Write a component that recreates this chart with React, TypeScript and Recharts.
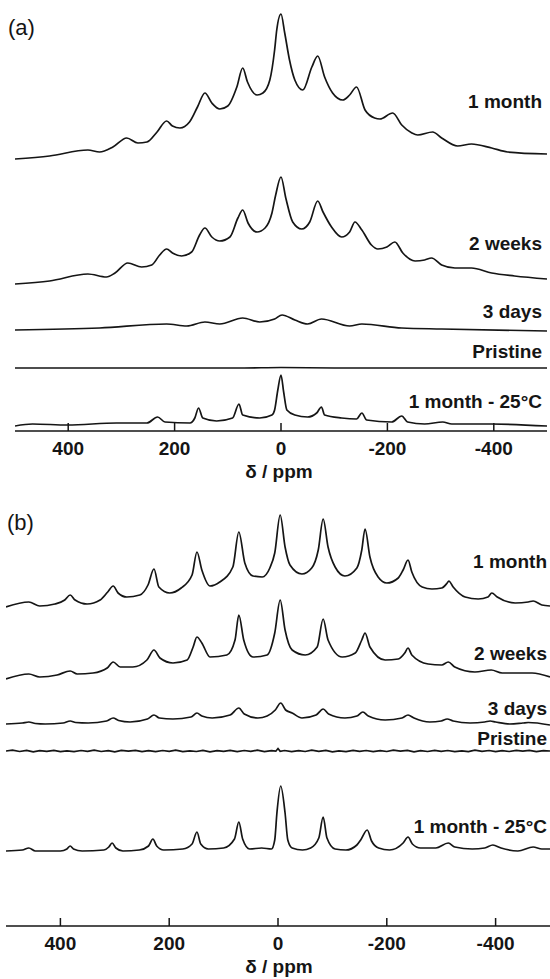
import { Line, LineChart, XAxis, YAxis } from 'recharts'

// [ppm, intensity] pairs (intensity in arbitrary units above each trace's baseline)
type Pt = [number, number]

const PPM_TICKS = [400, 200, 0, -200, -400]

// ---- panel (a) ----
const A_NAMES = ['1 month', '2 weeks', '3 days', 'Pristine', '1 month - 25°C']
const A_OFFSETS = [276, 150, 101, 63, 5]

const A_1MONTH: Pt[] = [
  [500, -4], [435, -1], [363, 5], [341, 3], [316, 8], [290, 17], [269, 12], [252, 13], [233, 23],
  [215, 34], [204, 29], [190, 27], [172, 33], [157, 48], [143, 62], [130, 52], [115, 46], [100, 49],
  [83, 68], [72, 87], [63, 73], [45, 60], [34, 62], [21, 75], [12, 105], [8, 125], [0, 141],
  [-7, 122], [-16, 95], [-26, 75], [-41, 65], [-58, 88], [-69, 99], [-82, 78], [-97, 62], [-116, 55],
  [-129, 60], [-142, 68], [-158, 45], [-176, 37], [-186, 36], [-210, 42], [-227, 30], [-246, 22],
  [-257, 20], [-285, 23], [-302, 17], [-332, 9], [-358, 11], [-396, 7], [-426, 3], [-500, 1]
]

const A_2WEEKS: Pt[] = [
  [500, -3], [435, 0], [363, 7], [328, 4], [312, 8], [288, 18], [262, 14], [243, 16], [228, 26],
  [215, 32], [204, 28], [187, 25], [168, 29], [153, 46], [143, 53], [130, 44], [115, 40], [96, 44],
  [81, 63], [72, 71], [62, 58], [45, 49], [30, 53], [17, 68], [10, 86], [0, 104], [-9, 83], [-22, 59],
  [-39, 52], [-54, 59], [-69, 80], [-79, 69], [-95, 54], [-114, 44], [-129, 49], [-139, 59], [-152, 51],
  [-170, 36], [-182, 32], [-199, 34], [-214, 39], [-229, 28], [-252, 20], [-270, 21], [-283, 23],
  [-302, 16], [-327, 13], [-358, 13], [-396, 8], [-439, 5], [-500, 2]
]

const A_3DAYS: Pt[] = [
  [500, 0], [341, 2], [215, 6], [177, 4], [143, 8], [115, 6], [72, 12], [40, 8], [12, 11], [-2, 15],
  [-26, 10], [-50, 6], [-76, 11], [-129, 4], [-152, 6], [-227, 2], [-302, 1], [-500, -1]
]

const A_PRISTINE: Pt[] = [[500, 0], [250, 0], [75, 0], [0, 0.5], [-100, 0], [-500, 0]]

const A_25C: Pt[] = [
  [500, 0], [467, 2], [401, 1], [309, 3], [252, 3], [232, 9], [218, 4], [171, 3], [162, 8], [155, 18],
  [147, 8], [121, 5], [91, 8], [79, 22], [72, 11], [40, 8], [17, 11], [12, 16], [6, 36], [0, 51],
  [-5, 34], [-11, 16], [-26, 11], [-50, 9], [-67, 13], [-76, 19], [-82, 11], [-114, 8], [-142, 7],
  [-152, 13], [-161, 6], [-208, 4], [-227, 10], [-238, 4], [-270, 2], [-304, 4], [-321, 2], [-396, 2],
  [-500, 0]
]

// ---- panel (b) ----
const B_NAMES = ['1 month', '2 weeks', '3 days', 'Pristine', '1 month - 25°C']
const B_OFFSETS = [320, 249, 202, 175, 75]

const B_1MONTH: Pt[] = [
  [500, -1], [458, 4], [438, 0], [410, 2], [392, 6], [382, 11], [373, 6], [351, 2], [327, 6], [313, 14],
  [303, 20], [294, 13], [278, 9], [254, 11], [239, 21], [228, 37], [219, 19], [199, 13], [178, 18],
  [158, 31], [149, 54], [140, 36], [125, 20], [107, 24], [83, 39], [72, 74], [61, 43], [46, 30],
  [29, 29], [15, 38], [6, 53], [-4, 91], [-13, 59], [-22, 41], [-44, 32], [-62, 38], [-74, 56],
  [-83, 87], [-92, 59], [-105, 39], [-123, 30], [-145, 38], [-154, 56], [-160, 77], [-169, 49],
  [-184, 29], [-200, 23], [-221, 28], [-230, 36], [-239, 46], [-246, 34], [-265, 19], [-283, 17],
  [-301, 18], [-311, 23], [-314, 25], [-322, 19], [-344, 9], [-368, 7], [-386, 9], [-393, 13],
  [-403, 9], [-436, 3], [-460, 4], [-469, 5], [-485, 1], [-500, 0]
]

const B_2WEEKS: Pt[] = [
  [500, -2], [458, 3], [438, 0], [406, 2], [382, 6], [369, 3], [340, 4], [314, 9], [303, 15], [290, 10],
  [267, 10], [241, 17], [228, 27], [217, 19], [193, 14], [167, 17], [156, 30], [149, 40], [140, 34],
  [125, 20], [94, 22], [79, 37], [72, 62], [63, 37], [46, 20], [20, 22], [6, 44], [-4, 77], [-13, 47],
  [-26, 27], [-50, 22], [-72, 30], [-83, 58], [-92, 37], [-118, 20], [-142, 24], [-154, 37], [-160, 44],
  [-169, 30], [-197, 17], [-221, 18], [-233, 24], [-239, 29], [-246, 22], [-276, 13], [-301, 12],
  [-313, 15], [-325, 10], [-362, 5], [-392, 7], [-412, 4], [-467, 4], [-500, 0]
]

const B_3DAYS: Pt[] = [
  [500, 0], [470, 1], [458, 2], [446, 0.5], [428, 0], [395, 1], [382, 3], [372, 1.5], [349, 1],
  [315, 3], [303, 6], [293, 3.5], [272, 2], [240, 5], [228, 9], [218, 6], [193, 5], [160, 7],
  [149, 11], [140, 8], [121, 6], [88, 9], [72, 16], [62, 10], [37, 6], [20, 8], [5, 14], [-5, 21],
  [-14, 14], [-26, 11], [-44, 6], [-70, 9], [-83, 15], [-93, 10], [-123, 6], [-145, 8], [-156, 12],
  [-166, 8], [-197, 4], [-228, 6], [-239, 9], [-250, 6], [-279, 2], [-300, 3], [-311, 5], [-322, 3],
  [-353, 1], [-380, 2], [-390, 3], [-400, 2], [-426, 0], [-450, 1], [-460, 1.5], [-500, -1]
]

const B_PRISTINE: Pt[] = [
  [500, 0], [488, 0.8], [475, -0.5], [462, 0.6], [450, -0.8], [438, 0.3], [425, -0.4], [412, 0.7],
  [400, -0.6], [388, 0.2], [375, -0.7], [362, 0.5], [350, -0.3], [338, 0.8], [325, -0.5], [312, 0.4],
  [300, -0.8], [288, 0.6], [275, -0.2], [262, 0.7], [250, -0.6], [238, 0.3], [225, -0.7], [212, 0.5],
  [200, -0.4], [188, 0.8], [175, -0.6], [162, 0.2], [150, -0.5], [138, 0.7], [125, -0.8], [112, 0.4],
  [100, -0.3], [88, 0.6], [75, -0.7], [62, 0.5], [50, -0.4], [38, 0.8], [25, -0.6], [12, 0.3],
  [4, -0.2], [0, 2.5], [-4, -0.3], [-12, 0.5], [-25, -0.7], [-38, 0.4], [-50, -0.5], [-62, 0.8],
  [-75, -0.3], [-88, 0.6], [-100, -0.8], [-112, 0.2], [-125, -0.6], [-138, 0.7], [-150, -0.4],
  [-162, 0.5], [-175, -0.7], [-188, 0.3], [-200, -0.5], [-212, 0.8], [-225, -0.2], [-238, 0.6],
  [-250, -0.8], [-262, 0.4], [-275, -0.5], [-288, 0.7], [-300, -0.3], [-312, 0.5], [-325, -0.7],
  [-338, 0.2], [-350, -0.6], [-362, 0.8], [-375, -0.4], [-388, 0.5], [-400, -0.7], [-412, 0.3],
  [-425, -0.5], [-438, 0.6], [-450, -0.2], [-462, 0.7], [-475, -0.6], [-488, 0.4], [-500, 0]
]

const B_25C: Pt[] = [
  [500, 0], [470, 1], [458, 3], [446, 0], [400, 0], [388, 2], [382, 5], [376, 2], [360, 0], [320, 1],
  [311, 4], [305, 8], [298, 3], [285, 0], [255, 1], [238, 5], [230, 12], [223, 5], [210, 1], [175, 2],
  [158, 7], [149, 19], [142, 7], [128, 2], [100, 3], [80, 12], [72, 29], [65, 12], [52, 2], [30, 3],
  [12, 2], [6, 11], [2, 38], [-5, 65], [-13, 38], [-18, 11], [-26, 3], [-45, 1], [-60, 3], [-75, 13],
  [-83, 34], [-90, 13], [-105, 2], [-125, 1], [-145, 6], [-152, 11], [-164, 21], [-172, 10], [-185, 3],
  [-205, 1], [-230, 8], [-239, 14], [-247, 7], [-262, 3], [-290, 3], [-313, 8], [-325, 4], [-357, 2],
  [-380, 3], [-395, 6], [-410, 3], [-441, 0], [-469, 4], [-485, 2], [-500, 2]
]

const A_TRACES = [A_1MONTH, A_2WEEKS, A_3DAYS, A_PRISTINE, A_25C]
const B_TRACES = [B_1MONTH, B_2WEEKS, B_3DAYS, B_PRISTINE, B_25C]

const FONT = '"Liberation Sans", Arial, Helvetica, sans-serif'
const INK = '#151515'

function toRows(points: Pt[], offset: number) {
  return points.map(([ppm, v]) => ({ ppm, y: offset + v }))
}

function PpmTick(props: any) {
  const { x, y, payload } = props
  return (
    <g>
      <line x1={x} x2={x} y1={y} y2={y - 8} stroke={INK} strokeWidth={1.5} />
      <text x={x} y={y + 24} textAnchor="middle" fontFamily={FONT} fontWeight="bold" fontSize={19} fill={INK}>
        {payload.value}
      </text>
    </g>
  )
}

interface PanelProps {
  letter: string
  traces: Pt[][]
  offsets: number[]
  names: string[]
  top: number
  height: number
  plotH: number
  left: number
  right: number
  nameRight: number
  nameY: number[]
  letterPos: [number, number]
}

function Panel(p: PanelProps) {
  return (
    <div style={{ position: 'absolute', left: 0, top: p.top }}>
      <LineChart width={550} height={p.height} margin={{ top: 0, right: p.right, left: p.left, bottom: 0 }}>
        <XAxis
          dataKey="ppm"
          type="number"
          domain={[-500, 500]}
          reversed
          allowDataOverflow
          ticks={PPM_TICKS}
          interval={0}
          tickSize={0}
          tickMargin={0}
          tick={<PpmTick />}
          axisLine={{ stroke: INK, strokeWidth: 1.6 }}
          height={p.height - p.plotH}
        />
        <YAxis type="number" domain={[0, p.plotH]} allowDataOverflow hide />
        {p.traces.map((t, i) => (
          <Line
            key={p.names[i]}
            data={toRows(t, p.offsets[i])}
            dataKey="y"
            type={t === B_PRISTINE ? 'linear' : 'monotone'}
            stroke={INK}
            strokeWidth={1.7}
            dot={false}
            activeDot={false}
            isAnimationActive={false}
          />
        ))}
        {p.names.map((n, i) => (
          <text key={n + i} x={p.nameRight} y={p.nameY[i]} textAnchor="end" fontFamily={FONT} fontWeight="bold" fontSize={19} fill={INK}>
            {n}
          </text>
        ))}
        <text x={p.letterPos[0]} y={p.letterPos[1]} fontFamily={FONT} fontSize={22} fill={INK}>
          {p.letter}
        </text>
        <text x={279} y={p.plotH + 47} textAnchor="middle" fontFamily={FONT} fontWeight="bold" fontSize={19} fill={INK}>
          δ / ppm
        </text>
      </LineChart>
    </div>
  )
}

export default function App() {
  return (
    <div style={{ position: 'absolute', left: 0, top: 0, width: 550, height: 979, background: '#fff', overflow: 'hidden' }}>
      <Panel
        letter="(a)"
        traces={A_TRACES}
        offsets={A_OFFSETS}
        names={A_NAMES}
        top={0}
        height={495}
        plotH={431}
        left={15}
        right={3}
        nameRight={542}
        nameY={[108, 250, 318, 358, 408]}
        letterPos={[8, 35]}
      />
      <Panel
        letter="(b)"
        traces={B_TRACES}
        offsets={B_OFFSETS}
        names={B_NAMES}
        top={500}
        height={479}
        plotH={426}
        left={6}
        right={0}
        nameRight={547}
        nameY={[68, 160, 215, 245, 333]}
        letterPos={[7, 30]}
      />
    </div>
  )
}
